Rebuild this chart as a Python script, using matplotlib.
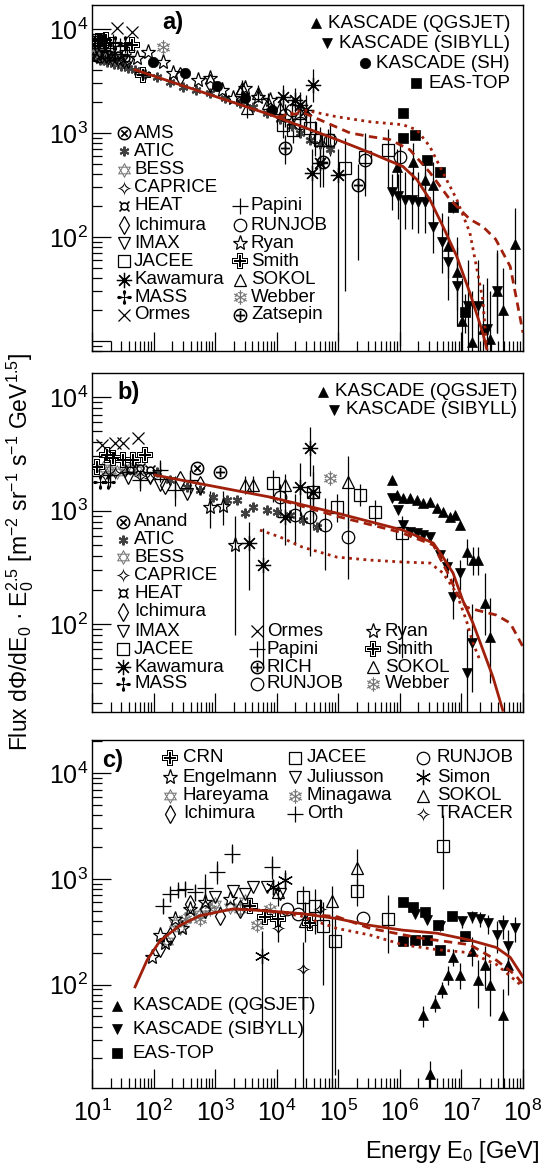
import numpy as np
import matplotlib.pyplot as plt
from matplotlib.lines import Line2D
from matplotlib.path import Path
from matplotlib.textpath import TextPath
from matplotlib.font_manager import FontProperties
from matplotlib.ticker import LogLocator, NullFormatter, FuncFormatter

plt.rcParams['font.family'] = ['Liberation Sans', 'DejaVu Sans']
plt.rcParams['mathtext.fontset'] = 'custom'
plt.rcParams['mathtext.rm'] = 'Liberation Sans'
plt.rcParams['mathtext.it'] = 'Liberation Sans:italic'
plt.rcParams['mathtext.bf'] = 'Liberation Sans:bold'

# ---------------- panel a (protons) ----------------
A_AMS_E = [10.4, 11.6, 13.0]
A_AMS_F = [5760, 5630, 5510]
A_ATIC_E = [13.5, 17.5, 22.8, 29.6, 38.4, 49.9, 72.5, 113, 185, 300, 488, 824, 1440, 2530, 4110, 6940, 11300, 17700,
            23800, 34700, 50000, 73000]
A_ATIC_F = [5040, 4830, 4620, 4420, 4230, 4040, 3700, 3470, 3100, 2780, 2600, 2430, 2180, 1950, 1790, 1570, 1370, 1175,
            1006, 863, 775, 694]
A_BESS_E = [11.2, 13.0, 15.1, 17.5, 20.4, 23.6, 28.5]
A_BESS_F = [5890, 5760, 5630, 5510, 5390, 5270, 5040]
A_CAPRICE_E = [11.6, 14.5, 18.2, 21.1, 26.4, 33.0]
A_CAPRICE_F = [5390, 5270, 5160, 5040, 4930, 4720]
A_HEAT_E = [15.6, 20.4, 26.4, 35.6]
A_HEAT_F = [5630, 5390, 5630, 5270]
A_ICHI_E = [268, 824, 2530]
A_ICHI_F = [3540, 3030, 2330]
A_IMAX_E = [10.8, 13.5, 16.9, 19.6, 24.5, 30.7, 38.4]
A_IMAX_F = [6010, 5760, 5390, 5760, 5270, 5040, 4830]
A_JACEE_E = [12.1, 13.5, 15.6, 12600, 18300, 34700, 50000, 68000, 128000, 270000, 640000]
A_JACEE_F = [7500, 7500, 7180, 1200, 1075, 1120, 863, 863, 465, 593, 692]
A_JACEE_LO = [6500, 6600, 6300, 900, 800, 800, 600, 650, 30, 300, 300]
A_JACEE_HI = [8500, 8400, 8100, 1500, 1400, 1450, 1150, 1100, 900, 1000, 1100]
A_KAW_E = [12600, 19700, 23800, 29800, 38700, 37300, 50200, 98600]
A_KAW_F = [2230, 2080, 1870, 1675, 2900, 416, 519, 398]
A_KAW_LO = [1700, 1600, 1300, 1100, 2000, 150, 300, 10]
A_KAW_HI = [2900, 2700, 2500, 2300, 4100, 700, 800, 700]
A_MASS_E = [16.3, 23.6, 34.3]
A_MASS_F = [7020, 7350, 7350]
A_ORMES_E = [12.1, 25.5, 44.6]
A_ORMES_F = [7850, 10200, 9360]
A_PAPINI_E = [21.9, 28.5, 34.3, 37.0]
A_PAPINI_F = [7500, 6870, 7020, 6290]
A_RUNJOB_E = [13600, 17700, 23800, 41700, 73000, 270000, 1.0e6]
A_RUNJOB_F = [1500, 1675, 1255, 923, 863, 555, 593]
A_RUNJOB_LO = [1150, 1300, 950, 600, 600, 250, 9]
A_RUNJOB_HI = [1900, 2100, 1600, 1300, 1200, 900, 1000]
A_RYAN_E = [53.8, 81, 142, 207, 526, 824, 1290, 1950, 3050, 4950, 7780]
A_RYAN_F = [5270, 6010, 4830, 3790, 3240, 3390, 2600, 2180, 2720, 2230, 2080]
A_SMITH_E = [12.5, 14.5, 16.9, 44.6, 67.3]
A_SMITH_F = [7670, 7670, 7850, 7020, 3620]
A_SOKOL_E = [2720, 3280, 4950, 7190, 11300, 23800]
A_SOKOL_F = [2720, 1750, 2430, 1950, 1750, 1570]
A_SOKOL_LO = [2300, 1400, 2000, 1600, 1400, 1200]
A_SOKOL_HI = [3200, 2100, 2900, 2400, 2150, 2000]
A_WEBBER_E = [142]
A_WEBBER_F = [6710]
A_ZATS_E = [13600, 56000, 208000]
A_ZATS_F = [723, 531, 319]
A_ZATS_LO = [500, 300, 60]
A_ZATS_HI = [950, 800, 500]
A_SH_E = [97.7, 324, 1070, 3050, 8350]
A_SH_F = [4830, 3790, 2840, 2180, 1670]
A_QGS_E = [8.9e5, 1.63e6, 2.55e6, 3.43e6, 6.0e6, 8.4e6, 1.01e7, 1.47e7, 2.2e7, 2.9e7, 3.76e7, 4.7e7, 7.4e7]
A_QGS_F = [475, 531, 356, 319, 81, 45.8, 15.5, 9.8, 13, 10.4, 30, 20, 85]
A_QGS_LO = [300, 350, 200, 180, 40, 20, 6, 3, 5, 4, 12, 8, 35]
A_QGS_HI = [700, 800, 560, 520, 160, 100, 40, 30, 35, 30, 70, 50, 190]
A_SIB_E = [7.4e5, 9.3e5, 1.2e6, 1.57e6, 1.96e6, 2.55e6, 3.43e6, 4.8e6, 6.0e6, 8.4e6, 1.27e7, 1.85e7, 2.6e7, 3.76e7]
A_SIB_F = [268, 245, 229, 229, 219, 219, 124, 89, 58, 33.6, 21.6, 21.6, 13, 30]
A_SIB_LO = [180, 150, 120, 120, 110, 110, 70, 45, 25, 14, 8, 8, 4, 12]
A_SIB_HI = [400, 400, 420, 420, 420, 420, 230, 170, 120, 80, 60, 60, 40, 75]
A_EAS_E = [1.12e6, 1.12e6, 1.74e6, 2.75e6, 4.47e6, 7.2e6, 1.15e7]
A_EAS_F = [1570, 900, 963, 555, 417, 196, 19]
A_EAS_LO = [1450, 830, 890, 510, 380, 170, 12]
A_EAS_HI = [1700, 970, 1040, 600, 455, 225, 28]
A_SOLID_E = [50, 7800, 95000, 330000, 1.12e6, 1.89e6, 3.07e6, 4.99e6, 8.4e6, 1.37e7, 2.22e7, 2.58e7]
A_SOLID_F = [4050, 1500, 863, 645, 476, 356, 229, 127, 65, 29, 12, 8.4]
A_DASH_E = [1.0e4, 2.69e4, 1.55e5, 3.3e5, 6.9e5, 1.45e6, 3.07e6, 6.5e6, 1.37e7, 2.22e7, 3.6e7, 6.2e7, 1.0e8]
A_DASH_F = [1415, 1570, 1000, 922, 863, 690, 417, 229, 148, 126, 95, 52, 12]
A_DOT_E = [1.0e4, 2.69e4, 9.5e4, 3.3e5, 1.12e6, 1.89e6, 3.07e6, 4.99e6, 8.4e6, 1.37e7, 1.75e7, 2.22e7, 2.58e7]
A_DOT_F = [1415, 1670, 1430, 1280, 1200, 1070, 740, 417, 229, 110, 52, 25, 8.4]

# ---------------- panel b (helium) ----------------
B_ANAND_E = [507]
B_ANAND_F = [2370]
B_ATIC_E = [113, 185, 348, 566, 921, 1560, 2260, 3050, 4110, 6940, 10100, 16400, 26600, 45000]
B_ATIC_F = [2180, 1860, 1610, 1520, 1315, 1240, 1240, 950, 1075, 1010, 970, 912, 824, 716]
B_BESS_E = [15.1, 19.6, 25.5, 34.3, 41.4, 55.8]
B_BESS_F = [2370, 2270, 2180, 2270, 2370, 2270]
B_CAPRICE_E = [16.3, 23.6, 34.3, 60, 87]
B_CAPRICE_F = [2055, 2140, 2180, 2015, 1930]
B_HEAT_E = [41.4, 60, 87]
B_HEAT_F = [2275, 2370, 2270]
B_ICHI_E = [153, 268, 566]
B_ICHI_F = [1680, 1860, 1680]
B_IMAX_E = [38.4, 87, 127, 348]
B_IMAX_F = [1930, 1930, 1680, 1397]
B_JACEE_E = [8670, 38700, 95000, 224000, 393000, 1.08e6]
B_JACEE_F = [1750, 1455, 1075, 1370, 970, 634]
B_JACEE_LO = [1200, 900, 800, 1100, 750, 50]
B_JACEE_HI = [2300, 2200, 1400, 1700, 1250, 900]
B_KAW_E = [3540, 5970, 13600, 23800, 34600, 38700]
B_KAW_F = [518, 331, 877, 1610, 3550, 1455]
B_KAW_LO = [200, 40, 500, 900, 2000, 700]
B_KAW_HI = [800, 700, 1400, 2600, 5500, 2500]
B_MASS_E = [13.5, 18.2]
B_MASS_F = [1780, 1780]
B_ORMES_E = [14.5, 23.6, 31.9, 55.8]
B_ORMES_F = [3780, 3940, 3940, 4360]
B_PAPINI_E = [19.6, 60, 127, 222, 390]
B_PAPINI_F = [2055, 1860, 2275, 1520, 1860]
B_PAPINI_LO = [1600, 1500, 1800, 1100, 1400]
B_PAPINI_HI = [2500, 2300, 2800, 2000, 2300]
B_RICH_E = [1200]
B_RICH_F = [2180]
B_RUNJOB_E = [11300, 19700, 34600, 60600, 143000]
B_RUNJOB_F = [1315, 912, 877, 745, 585]
B_RUNJOB_LO = [900, 500, 400, 300, 250]
B_RUNJOB_HI = [1700, 1400, 1500, 1300, 1000]
B_RYAN_E = [824, 1340, 2100]
B_RYAN_F = [1075, 1095, 497]
B_RYAN_LO = [700, 750, 80]
B_RYAN_HI = [1500, 1500, 900]
B_SMITH_E = [12.1, 17.5, 21.9, 31.9, 46.3, 72.5]
B_SMITH_F = [2420, 3080, 2900, 2790, 2790, 3080]
B_SOKOL_E = [3050, 4110, 13600, 143000]
B_SOKOL_F = [1680, 1680, 1680, 1780]
B_SOKOL_LO = [1400, 1400, 1300, 700]
B_SOKOL_HI = [2000, 2000, 2100, 3000]
B_WEBBER_E = [73000]
B_WEBBER_F = [1930]
B_QGS_E = [7.4e5, 8.9e5, 1.12e6, 1.45e6, 1.89e6, 2.36e6, 3.07e6, 3.99e6, 4.99e6, 6.5e6, 7.8e6, 9.4e6, 1.22e7, 1.53e7, 1.85e7, 2.4e7, 2.9e7]
B_QGS_F = [1860, 1370, 1290, 1290, 1240, 1165, 1190, 1050, 970, 877, 912, 745, 431, 366, 366, 153, 77]
B_QGS_LO = [1800, 1330, 1250, 1250, 1200, 1130, 1150, 1010, 930, 830, 860, 700, 330, 270, 270, 80, 30]
B_QGS_HI = [1920, 1410, 1330, 1330, 1280, 1200, 1230, 1090, 1010, 920, 960, 800, 560, 480, 480, 280, 170]
B_SIB_E = [7.4e5, 9.3e5, 1.12e6, 1.45e6, 1.89e6, 2.36e6, 3.07e6, 4.46e6, 5.8e6, 7.25e6, 9.4e6, 1.47e7, 1.22e7]
B_SIB_F = [1290, 1010, 745, 647, 634, 608, 585, 405, 318, 173, 281, 68, 37]
B_SIB_LO = [1250, 980, 720, 620, 610, 585, 560, 370, 260, 110, 200, 25, 10]
B_SIB_HI = [1330, 1040, 770, 675, 660, 630, 610, 440, 380, 260, 370, 150, 90]
B_SOLID_E = [105, 7800, 95000, 1.12e6, 3.5e6, 5.0e6, 7.3e6, 1.05e7, 1.54e7, 2.24e7, 3.26e7, 4.7e7]
B_SOLID_F = [2055, 1315, 950, 673, 517, 390, 282, 162, 102, 59, 34, 17.4]
B_DASH_E = [7800, 1.07e5, 1.0e6, 3.5e6, 6.5e6, 8.3e6, 1.2e7, 1.75e7, 3.7e7, 6.2e7, 1.0e8]
B_DASH_F = [1315, 877, 646, 497, 259, 188, 141, 133, 120, 102, 63]
B_DOT_E = [5350, 1.13e4, 2.6e4, 9.5e4, 3.3e5, 1.12e6, 3.1e6, 5.0e6, 8.3e6, 1.2e7, 1.54e7, 2.0e7]
B_DOT_F = [673, 585, 477, 389, 366, 352, 345, 282, 188, 108, 68, 48]

# ---------------- panel c ----------------
C_CRN_E = [3680, 6430, 10500, 34600]
C_CRN_F = [553, 439, 421, 379]
C_ENG_E = [94, 127, 153, 222, 290, 390, 683, 1740]
C_ENG_F = [181, 294, 248, 421, 340, 520, 603, 641]
C_HARE_E = [165, 222, 268, 390, 566, 1000, 1740, 3050]
C_HARE_F = [259, 379, 340, 448, 467, 577, 542, 616]
C_ICHI_E = [127, 185, 390, 683, 1200, 2530]
C_ICHI_F = [223, 288, 577, 520, 448, 520]
C_JACEE_E = [26600, 41700, 56000, 88000, 200000, 640000, 4.99e6]
C_JACEE_F = [670, 553, 355, 259, 760, 421, 2050]
C_JACEE_LO = [500, 300, 100, 14, 550, 200, 800]
C_JACEE_HI = [850, 800, 600, 450, 1000, 700, 4000]
C_JUL_E = [1000, 1950, 3050, 4110, 6940, 11300]
C_JUL_F = [670, 760, 714, 845, 845, 714]
C_MINA_E = [324, 566, 824, 2530, 4780, 7780]
C_MINA_F = [421, 421, 520, 520, 363, 520]
C_ORTH_E = [142, 185, 249, 324, 470, 683, 1070, 1880, 8360]
C_ORTH_F = [553, 714, 793, 810, 745, 827, 1160, 1730, 1290]
C_ORTH_LO = [480, 620, 690, 700, 620, 600, 900, 1400, 1000]
C_ORTH_HI = [640, 820, 900, 930, 880, 1100, 1480, 2150, 1650]
C_RUNJOB_E = [14700, 22100, 250000]
C_RUNJOB_F = [520, 467, 430]
C_SIMON_E = [5750, 8670, 13600]
C_SIMON_F = [188, 845, 980]
C_SIMON_LO = [40, 700, 800]
C_SIMON_HI = [320, 1000, 1200]
C_SOKOL_E = [10500, 28700, 79000, 200000]
C_SOKOL_F = [745, 395, 616, 1260]
C_SOKOL_LO = [550, 250, 10, 700]
C_SOKOL_HI = [950, 600, 850, 1900]
C_TRACER_E = [10500, 26600, 50000]
C_TRACER_F = [340, 140, 520]
C_TRACER_LO = [250, 10, 400]
C_TRACER_HI = [420, 250, 650]
C_QGS_E = [2.36e6, 3.7e6, 4.8e6, 6.0e6, 7.25e6, 9.4e6, 1.47e7, 1.85e7, 2.4e7, 2.9e7, 4.7e7, 5.7e7, 3.07e6]
C_QGS_F = [51, 67, 90, 124, 181, 124, 209, 111, 153, 100, 51, 153, 14.3]
C_QGS_LO = [40, 55, 75, 100, 150, 90, 150, 60, 90, 50, 10, 80, 10]
C_QGS_HI = [62, 80, 105, 150, 215, 160, 280, 170, 230, 160, 90, 250, 19]
C_SIB_E = [1.75e6, 2.74e6, 4.46e6, 1.01e7, 1.47e7, 1.99e7, 2.69e7, 3.76e7, 4.7e7, 5.7e7, 7.4e7]
C_SIB_F = [467, 404, 355, 395, 439, 421, 379, 294, 363, 233, 340]
C_SIB_LO = [440, 380, 330, 340, 380, 350, 300, 200, 270, 150, 250]
C_SIB_HI = [495, 430, 380, 450, 500, 490, 460, 400, 460, 330, 440]
C_EAS_E = [1.12e6, 1.63e6, 2.55e6, 4.14e6, 6.98e6, 1.13e7, 1.12e6, 1.75e6, 2.74e6, 4.46e6]
C_EAS_F = [603, 542, 488, 363, 448, 288, 259, 264, 264, 214]
C_SOLID_E = [50, 78, 127, 268, 566, 1950, 6900, 27000, 95000, 330000, 1.12e6, 4.0e6, 1.38e7, 3.7e7, 6.2e7, 1.0e8]
C_SOLID_F = [95, 169, 259, 363, 448, 520, 498, 467, 421, 363, 327, 306, 263, 224, 181, 118]
C_DASH_E = [6900, 95000, 330000, 2.1e6, 1.38e7, 3.7e7, 7.5e7, 1.0e8]
C_DASH_F = [498, 439, 340, 276, 238, 170, 123, 100]
C_DOT_E = [3700, 23900, 95000, 330000, 1.12e6, 4.0e6, 1.38e7, 3.7e7, 1.0e8]
C_DOT_F = [520, 448, 340, 294, 238, 214, 200, 155, 95]

W, H = 550, 1170
fig = plt.figure(figsize=(5.5, 11.7), dpi=100)
renderer = fig.canvas.get_renderer()
RED = '#a0200c'
GRAY = '0.45'


def glyph(ch):
    tp = TextPath((0, 0), ch, size=10, prop=FontProperties(family='DejaVu Sans'))
    verts = tp.vertices.copy()
    codes = tp.codes
    keep = codes != Path.CLOSEPOLY
    lo = verts[keep].min(axis=0)
    hi = verts[keep].max(axis=0)
    verts = verts - (lo + hi) / 2
    verts[~keep] = 0
    return Path(verts, codes)


def open_m(m, ms=7, c='k'):
    return dict(marker=m, ms=ms, mfc='none', mec=c, mew=0.9)


def full_m(m, ms=7.5, c='k'):
    return dict(marker=m, ms=ms, mfc=c, mec=c, mew=0.5)


def glyph_m(ch, ms=10.5, c='k'):
    return dict(marker=glyph(ch), ms=ms, mfc=c, mec=c, mew=0)


STYLE = {
    'AMS': glyph_m('⊗', 10), 'Anand': glyph_m('⊗', 10),
    'ATIC': dict(marker=(6, 2, 0), ms=7, mec='0.25', mew=1.5),
    'BESS': glyph_m('✡', 11, c=GRAY), 'CAPRICE': glyph_m('✧', 11), 'TRACER': glyph_m('✧', 11),
    'HEAT': glyph_m('¤', 8), 'Ichimura': open_m('d', ms=9),
    'IMAX': open_m('v', 8), 'Juliusson': open_m('v', 8), 'JACEE': open_m('s', 8),
    'Kawamura': dict(marker=(8, 2, 0), ms=11, mec='k', mew=0.9),
    'Simon': dict(marker=(6, 2, 0), ms=11, mec='k', mew=0.9),
    'MASS': glyph_m('✢'), 'Ormes': dict(marker='x', ms=9, mec='k', mew=0.9),
    'Papini': dict(marker='+', ms=11, mec='k', mew=0.9),
    'Orth': dict(marker='+', ms=11, mec='k', mew=0.9),
    'RICH': glyph_m('⊕', 10), 'Zatsepin': glyph_m('⊕', 10),
    'RUNJOB': open_m('o', ms=9), 'Ryan': open_m('*', ms=11), 'Engelmann': open_m('*', ms=11),
    'Smith': glyph_m('✙', 11), 'CRN': glyph_m('✙', 11), 'SOKOL': open_m('^', ms=9),
    'Webber': glyph_m('❄', c=GRAY), 'Minagawa': glyph_m('❄', c=GRAY),
    'Hareyama': glyph_m('✡', 11, c=GRAY),
    'QGSJET': full_m('^'), 'SIBYLL': full_m('v'), 'SH': full_m('o'), 'EASTOP': full_m('s', ms=7),
}


def fx(x):
    return x / W


def fy(y):
    return 1 - y / H


def ylab(v, pos):
    if v < 50:
        return ''
    return r'$10^{%d}$' % int(round(np.log10(v)))


def make_axes(top, bottom, ylim, xlabels=False):
    ax = fig.add_axes([fx(92), fy(bottom), (523 - 92) / W, (bottom - top) / H])
    ax.set_xscale('log')
    ax.set_yscale('log')
    ax.set_xlim(10, 1e8)
    ax.set_ylim(*ylim)
    for axis in (ax.xaxis, ax.yaxis):
        axis.set_major_locator(LogLocator(base=10, numticks=20))
        axis.set_minor_locator(LogLocator(base=10, subs=range(2, 10), numticks=20))
        axis.set_minor_formatter(NullFormatter())
    ax.yaxis.set_major_formatter(FuncFormatter(ylab))
    ax.tick_params(which='both', direction='in', top=False, right=False, width=0.9, labelsize=18)
    ax.tick_params(which='major', length=14)
    ax.tick_params(which='minor', length=7)
    ax.tick_params(axis='y', pad=3)
    ax.tick_params(axis='x', pad=8, labelbottom=xlabels)
    for s in ax.spines.values():
        s.set_linewidth(1.0)
    return ax


def draw(ax, style, E, F, lo=None, hi=None, ecolor='k'):
    if lo is not None:
        ax.vlines(E, lo, hi, colors=ecolor, lw=0.9, zorder=2)
    ax.plot(E, F, ls='none', zorder=3, **STYLE[style])


def curves(ax, sE, sF, dE, dF, oE, oF):
    ax.plot(sE, sF, color=RED, lw=2.0, zorder=5)
    ax.plot(dE, dF, color=RED, lw=2.0, dashes=(3, 2), zorder=5)
    ax.plot(oE, oF, color=RED, lw=2.0, dashes=(1, 1.6), zorder=5)


def mark(style, xm, y):
    fig.add_artist(Line2D([fx(xm)], [fy(y)], ls='none', transform=fig.transFigure, **STYLE[style]))


def entry(style, xm, xt, y, text):
    mark(style, xm, y)
    fig.text(fx(xt), fy(y), text, ha='left', va='center', fontsize=13.5)


def entry_right(style, xr, y, text, gap=12):
    t = fig.text(fx(xr), fy(y), text, ha='right', va='center', fontsize=13.5)
    bb = t.get_window_extent(renderer)
    mark(style, bb.x0 - gap, y)


# ---- panel a ----
axa = make_axes(5, 351, (8.0, 1.7e4))
draw(axa, 'ATIC', A_ATIC_E, A_ATIC_F)
draw(axa, 'AMS', A_AMS_E, A_AMS_F)
draw(axa, 'BESS', A_BESS_E, A_BESS_F)
draw(axa, 'CAPRICE', A_CAPRICE_E, A_CAPRICE_F)
draw(axa, 'HEAT', A_HEAT_E, A_HEAT_F)
draw(axa, 'Ichimura', A_ICHI_E, A_ICHI_F)
draw(axa, 'IMAX', A_IMAX_E, A_IMAX_F)
draw(axa, 'JACEE', A_JACEE_E, A_JACEE_F, A_JACEE_LO, A_JACEE_HI)
draw(axa, 'Kawamura', A_KAW_E, A_KAW_F, A_KAW_LO, A_KAW_HI)
draw(axa, 'MASS', A_MASS_E, A_MASS_F)
draw(axa, 'Ormes', A_ORMES_E, A_ORMES_F)
draw(axa, 'Papini', A_PAPINI_E, A_PAPINI_F)
draw(axa, 'RUNJOB', A_RUNJOB_E, A_RUNJOB_F, A_RUNJOB_LO, A_RUNJOB_HI)
draw(axa, 'Ryan', A_RYAN_E, A_RYAN_F)
draw(axa, 'Smith', A_SMITH_E, A_SMITH_F)
draw(axa, 'SOKOL', A_SOKOL_E, A_SOKOL_F, A_SOKOL_LO, A_SOKOL_HI)
draw(axa, 'Webber', A_WEBBER_E, A_WEBBER_F)
draw(axa, 'Zatsepin', A_ZATS_E, A_ZATS_F, A_ZATS_LO, A_ZATS_HI)
draw(axa, 'SH', A_SH_E, A_SH_F)
draw(axa, 'QGSJET', A_QGS_E, A_QGS_F, A_QGS_LO, A_QGS_HI)
draw(axa, 'SIBYLL', A_SIB_E, A_SIB_F, A_SIB_LO, A_SIB_HI)
draw(axa, 'EASTOP', A_EAS_E, A_EAS_F, A_EAS_LO, A_EAS_HI)
curves(axa, A_SOLID_E, A_SOLID_F, A_DASH_E, A_DASH_F, A_DOT_E, A_DOT_F)

# ---- panel b ----
axb = make_axes(373, 712, (16.8, 1.63e4))
draw(axb, 'ATIC', B_ATIC_E, B_ATIC_F)
draw(axb, 'Anand', B_ANAND_E, B_ANAND_F)
draw(axb, 'BESS', B_BESS_E, B_BESS_F)
draw(axb, 'CAPRICE', B_CAPRICE_E, B_CAPRICE_F)
draw(axb, 'HEAT', B_HEAT_E, B_HEAT_F)
draw(axb, 'Ichimura', B_ICHI_E, B_ICHI_F)
draw(axb, 'IMAX', B_IMAX_E, B_IMAX_F)
draw(axb, 'JACEE', B_JACEE_E, B_JACEE_F, B_JACEE_LO, B_JACEE_HI)
draw(axb, 'Kawamura', B_KAW_E, B_KAW_F, B_KAW_LO, B_KAW_HI)
draw(axb, 'MASS', B_MASS_E, B_MASS_F)
draw(axb, 'Ormes', B_ORMES_E, B_ORMES_F)
draw(axb, 'Papini', B_PAPINI_E, B_PAPINI_F, B_PAPINI_LO, B_PAPINI_HI)
draw(axb, 'RICH', B_RICH_E, B_RICH_F)
draw(axb, 'RUNJOB', B_RUNJOB_E, B_RUNJOB_F, B_RUNJOB_LO, B_RUNJOB_HI)
draw(axb, 'Ryan', B_RYAN_E, B_RYAN_F, B_RYAN_LO, B_RYAN_HI)
draw(axb, 'Smith', B_SMITH_E, B_SMITH_F)
draw(axb, 'SOKOL', B_SOKOL_E, B_SOKOL_F, B_SOKOL_LO, B_SOKOL_HI)
draw(axb, 'Webber', B_WEBBER_E, B_WEBBER_F)
draw(axb, 'QGSJET', B_QGS_E, B_QGS_F, B_QGS_LO, B_QGS_HI)
draw(axb, 'SIBYLL', B_SIB_E, B_SIB_F, B_SIB_LO, B_SIB_HI)
curves(axb, B_SOLID_E, B_SOLID_F, B_DASH_E, B_DASH_F, B_DOT_E, B_DOT_F)

# ---- panel c ----
axc = make_axes(740, 1088, (10.5, 2.06e4), xlabels=True)
draw(axc, 'Hareyama', C_HARE_E, C_HARE_F)
draw(axc, 'Minagawa', C_MINA_E, C_MINA_F)
draw(axc, 'Engelmann', C_ENG_E, C_ENG_F)
draw(axc, 'Ichimura', C_ICHI_E, C_ICHI_F)
draw(axc, 'CRN', C_CRN_E, C_CRN_F)
draw(axc, 'Juliusson', C_JUL_E, C_JUL_F)
draw(axc, 'Orth', C_ORTH_E, C_ORTH_F, C_ORTH_LO, C_ORTH_HI)
draw(axc, 'JACEE', C_JACEE_E, C_JACEE_F, C_JACEE_LO, C_JACEE_HI)
draw(axc, 'RUNJOB', C_RUNJOB_E, C_RUNJOB_F)
draw(axc, 'Simon', C_SIMON_E, C_SIMON_F, C_SIMON_LO, C_SIMON_HI)
draw(axc, 'SOKOL', C_SOKOL_E, C_SOKOL_F, C_SOKOL_LO, C_SOKOL_HI)
draw(axc, 'TRACER', C_TRACER_E, C_TRACER_F, C_TRACER_LO, C_TRACER_HI)
draw(axc, 'QGSJET', C_QGS_E, C_QGS_F, C_QGS_LO, C_QGS_HI)
draw(axc, 'SIBYLL', C_SIB_E, C_SIB_F, C_SIB_LO, C_SIB_HI)
draw(axc, 'EASTOP', C_EAS_E, C_EAS_F)
curves(axc, C_SOLID_E, C_SOLID_F, C_DASH_E, C_DASH_F, C_DOT_E, C_DOT_F)

# ---- legends (hand placed like the ROOT boxes) ----
for st, txt, y in [('QGSJET', 'KASCADE (QGSJET)', 23), ('SIBYLL', 'KASCADE (SIBYLL)', 43),
                   ('SH', 'KASCADE (SH)', 63), ('EASTOP', 'EAS-TOP', 83)]:
    entry_right(st, 510, y, txt)
rows_a = [133, 151, 170, 188, 206, 225, 243, 261, 280, 297, 315]
for st, y in zip(['AMS', 'ATIC', 'BESS', 'CAPRICE', 'HEAT', 'Ichimura', 'IMAX', 'JACEE',
                  'Kawamura', 'MASS', 'Ormes'], rows_a):
    entry(st, 124, 134, y, st)
for st, y in zip(['Papini', 'RUNJOB', 'Ryan', 'Smith', 'SOKOL', 'Webber', 'Zatsepin'], rows_a[4:]):
    entry(st, 240, 251, y, st)

entry_right('QGSJET', 517, 392, 'KASCADE (QGSJET)')
entry_right('SIBYLL', 517, 410, 'KASCADE (SIBYLL)')
rows_b = [522, 540, 557, 575, 593, 612, 631, 649, 667, 684]
for st, y in zip(['Anand', 'ATIC', 'BESS', 'CAPRICE', 'HEAT', 'Ichimura', 'IMAX', 'JACEE',
                  'Kawamura', 'MASS'], rows_b):
    entry(st, 123, 134, y, st)
for st, y in zip(['Ormes', 'Papini', 'RICH', 'RUNJOB'], rows_b[6:]):
    entry(st, 257, 267, y, st)
for st, y in zip(['Ryan', 'Smith', 'SOKOL', 'Webber'], rows_b[6:]):
    entry(st, 373, 385, y, st)

rows_c = [758, 777, 796, 814]
for st, y in zip(['CRN', 'Engelmann', 'Hareyama', 'Ichimura'], rows_c):
    entry(st, 170, 183, y, st)
for st, y in zip(['JACEE', 'Juliusson', 'Minagawa', 'Orth'], rows_c):
    entry(st, 295, 307, y, st)
for st, y in zip(['RUNJOB', 'Simon', 'SOKOL', 'TRACER'], rows_c):
    entry(st, 423, 437, y, st)
entry('QGSJET', 117, 133, 1006, 'KASCADE (QGSJET)')
entry('SIBYLL', 117, 133, 1029, 'KASCADE (SIBYLL)')
entry('EASTOP', 117, 133, 1053, 'EAS-TOP')

# ---- panel letters and axis titles ----
fig.text(fx(162), fy(22), 'a)', fontsize=17, fontweight='bold', ha='left', va='center')
fig.text(fx(117), fy(393), 'b)', fontsize=17, fontweight='bold', ha='left', va='center')
fig.text(fx(102), fy(760), 'c)', fontsize=17, fontweight='bold', ha='left', va='center')
fig.text(fx(20), fy(552), 'Flux dΦ/dE$_0$ · E$_0^{2.5}$ [m$^{-2}$ sr$^{-1}$ s$^{-1}$ GeV$^{1.5}$]',
         rotation=90, ha='center', va='center', fontsize=16.5)
fig.text(fx(540), fy(1152), 'Energy E$_0$ [GeV]', ha='right', va='center', fontsize=17)

fig.savefig('out.png', dpi=100)
